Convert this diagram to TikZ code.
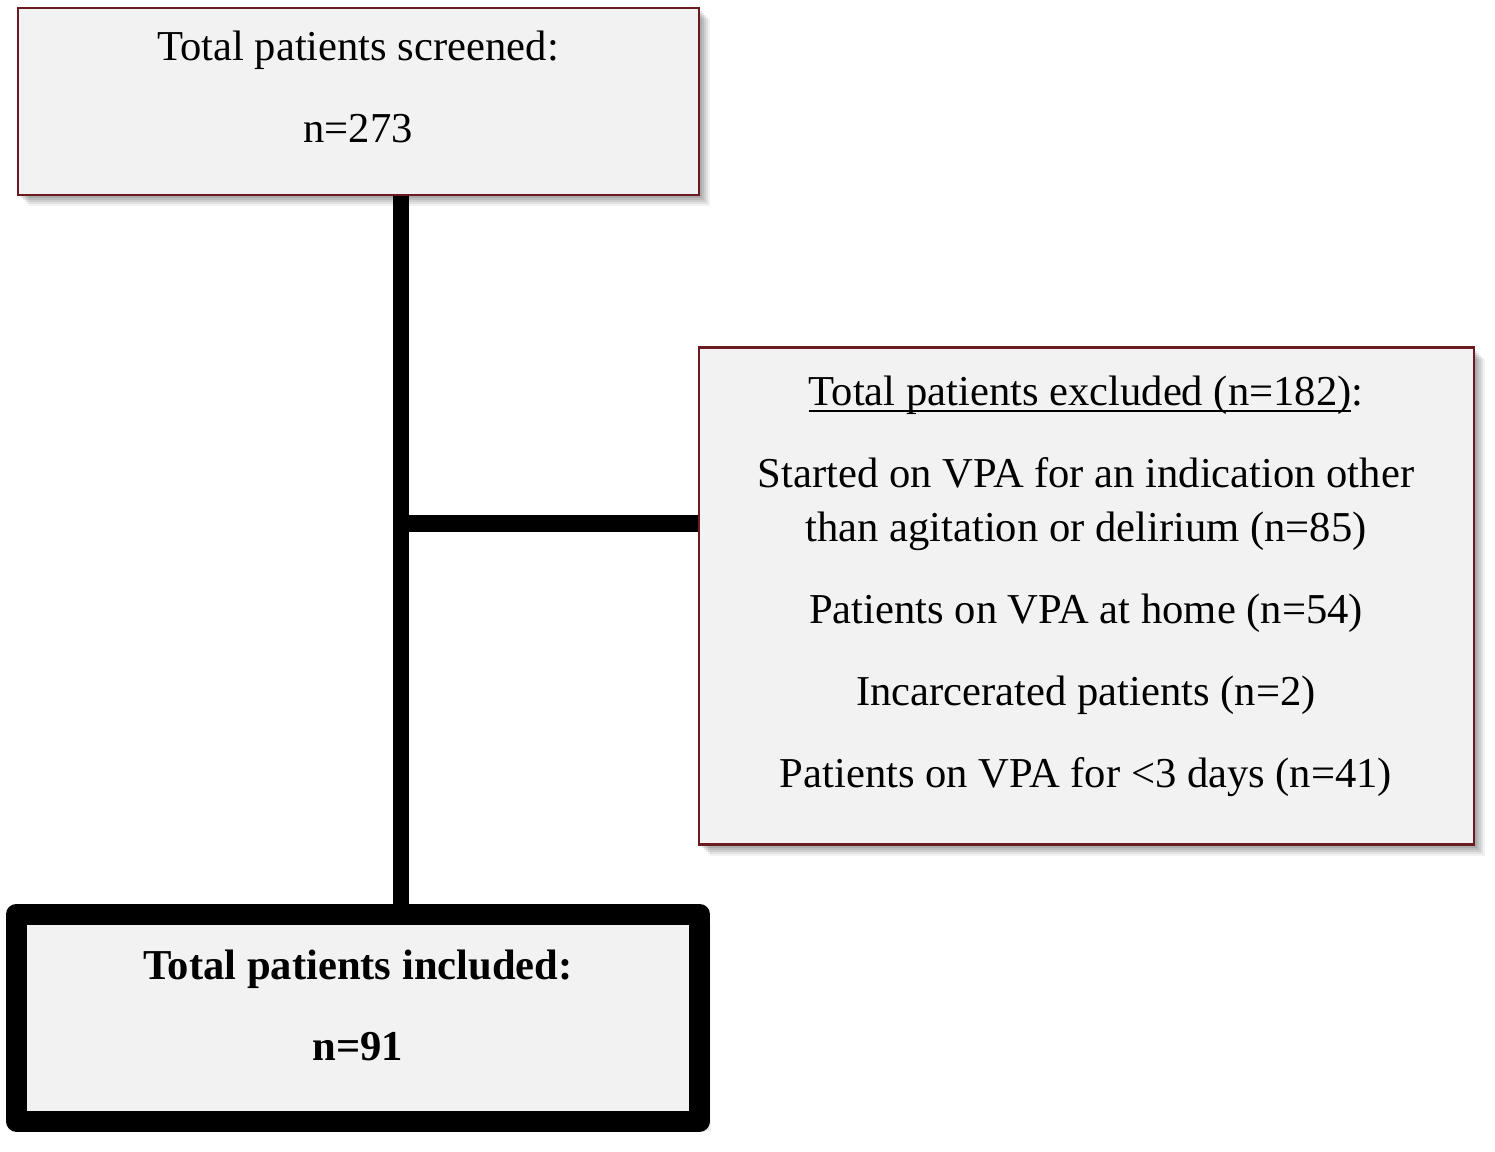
\documentclass[tikz,border=0pt]{standalone}
\usepackage{fontspec}
\setmainfont{Liberation Serif}
\usetikzlibrary{shadows}
\definecolor{boxred}{HTML}{6A1B22}
\definecolor{boxfill}{HTML}{F2F2F2}
\newcommand\myul[1]{\setbox0\hbox{#1}\rlap{\rule[-7pt]{\wd0}{2pt}}\box0}
\tikzset{
  softshadow/.style={
    general shadow={fill=black, opacity=0.09, shadow xshift=3pt, shadow yshift=-3pt},
    general shadow={fill=black, opacity=0.09, shadow xshift=5pt, shadow yshift=-5pt},
    general shadow={fill=black, opacity=0.08, shadow xshift=7pt, shadow yshift=-7pt},
    general shadow={fill=black, opacity=0.07, shadow xshift=9pt, shadow yshift=-9pt},
    general shadow={fill=black, opacity=0.05, shadow xshift=11pt, shadow yshift=-11pt}},
  flowbox/.style={draw=boxred, line width=2.5pt, fill=boxfill, softshadow, inner sep=0pt},
  finalbox/.style={draw=black, line width=21pt, line join=round, fill=boxfill, softshadow, inner sep=0pt},
  txt/.style={font=\fontsize{42.6}{50}\selectfont, inner sep=0pt, anchor=base},
  btxt/.style={txt, font=\fontsize{42.6}{50}\selectfont\bfseries},
  conn/.style={draw=black, line cap=butt}
}
\begin{document}
\begin{tikzpicture}[x=1pt,y=-1pt]
\useasboundingbox (0,0) rectangle (1495,1151);
% boxes
\node[flowbox, minimum width=681pt, minimum height=187pt] (scr) at (358.5,101.5) {};
\node[flowbox, minimum width=775pt, minimum height=497pt] (ex) at (1086.5,596) {};
\node[finalbox, minimum width=683pt, minimum height=207pt] (inc) at (358,1017.5) {};
% texts
\node[txt] (scrA) at (358,60) {Total patients screened:};
\node[txt] (scrB) at (358,142) {n=273};
\node[txt] (exA) at (1086,405) {\myul{Total patients excluded (n=182)}:};
\node[txt] (exB) at (1086,487) {Started on VPA for an indication other};
\node[txt] (exC) at (1086,541) {than agitation or delirium (n=85)};
\node[txt] (exD) at (1086,623) {Patients on VPA at home (n=54)};
\node[txt] (exE) at (1086,705) {Incarcerated patients (n=2)};
\node[txt] (exF) at (1086,787) {Patients on VPA for <3 days (n=41)};
\node[btxt] (incA) at (358,979) {Total patients included:};
\node[btxt] (incB) at (358,1060) {n=91};
% connectors
\coordinate (j) at (401,523.5);
\draw[conn, line width=16pt] (j |- scr.south) -- (j |- inc.north);
\draw[conn, line width=17pt] (393,523.5) -- (j -| ex.west);
\end{tikzpicture}
\end{document}
